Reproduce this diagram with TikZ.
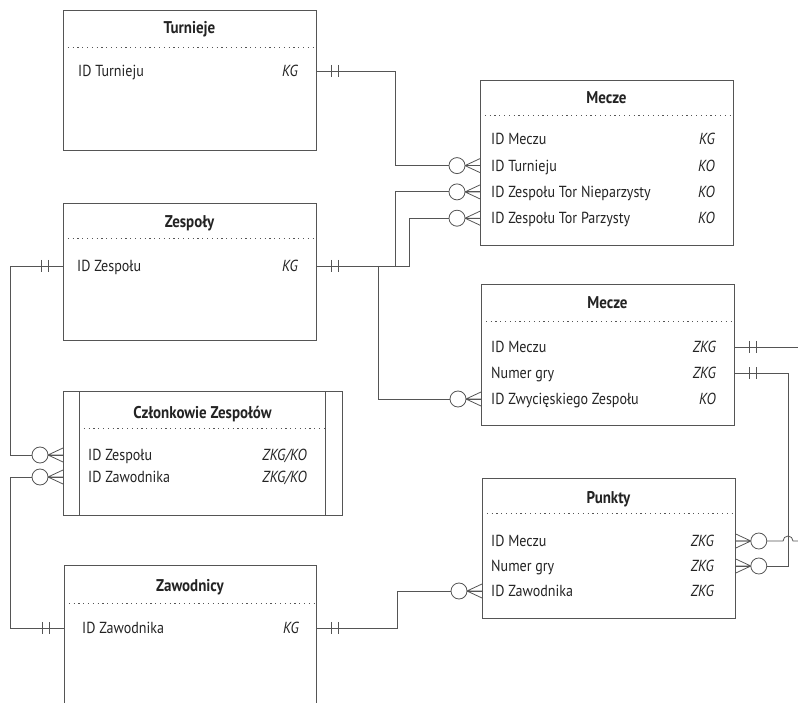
\documentclass[tikz,border=0pt]{standalone}
\usepackage{fontspec}
\setmainfont[FakeStretch=0.88]{PT Sans}
\usepackage{tikz}
\usetikzlibrary{positioning,calc}
\definecolor{inkgray}{RGB}{35,35,35}
\definecolor{linegray}{RGB}{85,85,85}

\tikzset{
  tbl/.style={draw=linegray, line width=0.8pt, minimum width=253pt, anchor=north west, inner sep=0pt},
  ttl/.style={font=\fontsize{17}{19}\selectfont\bfseries, text=inkgray, text height=12pt, text depth=0pt, inner sep=0pt},
  fld/.style={font=\fontsize{16}{18}\selectfont, text=inkgray, anchor=west, text height=11.2pt, text depth=0pt, inner sep=0pt},
  key/.style={font=\fontsize{16}{18}\selectfont\itshape, text=inkgray, anchor=east, text height=11.2pt, text depth=0pt, inner sep=0pt},
  sep/.style={linegray, line width=0.8pt, dash pattern=on 1.2pt off 3.6pt},
  conn/.style={linegray, line width=0.8pt},
  pics/onlyone/.style={code={
    \draw[conn] (14.5,-6) -- (14.5,6) (21.5,-6) -- (21.5,6);}},
  pics/zeromany/.style={code={
    \draw[conn] (0,-7) -- (15,0) -- (0,7) (0,0) -- (15,0);
    \draw[conn, fill=white] (23,0) circle (8pt);}}
}

\begin{document}
\begin{tikzpicture}[x=1pt, y=-1pt]
    \useasboundingbox (0,0) rectangle (798,703);

    % Turnieje
    \node[tbl, minimum height=140pt] (tur) at (63,10) {};
    \node[ttl] (tur-t) at (189.5,28) {Turnieje};
    \draw[sep] ([yshift=-37pt]tur.north west) -- ([yshift=-37pt]tur.north east);
    \node[fld] (tur-n1) at (78,71) {ID Turnieju};
    \node[key] (tur-k1) at (298,71) {KG};

    % Zespoly
    \node[tbl, minimum height=137pt] (zes) at (63,203) {};
    \node[ttl] (zes-t) at (189.5,222) {Zespoły};
    \draw[sep] ([yshift=-35pt]zes.north west) -- ([yshift=-35pt]zes.north east);
    \node[fld] (zes-n1) at (77,266) {ID Zespołu};
    \node[key] (zes-k1) at (298,266) {KG};

    % Czlonkowie Zespolow (table with double sides)
    \node[tbl, minimum width=279pt, minimum height=124pt] (czl) at (63,391) {};
    \draw[conn] ([xshift=16pt]czl.north west) -- ([xshift=16pt]czl.south west);
    \draw[conn] ([xshift=-17pt]czl.north east) -- ([xshift=-17pt]czl.south east);
    \node[ttl] (czl-t) at (202.5,412) {Członkowie Zespołów};
    \draw[sep] ([xshift=16pt,yshift=-37pt]czl.north west) -- ([xshift=-17pt,yshift=-37pt]czl.north east);
    \node[fld] (czl-n1) at (88,455) {ID Zespołu};
    \node[key] (czl-k1) at (307,455) {ZKG/KO};
    \node[fld] (czl-n2) at (88,477) {ID Zawodnika};
    \node[key] (czl-k2) at (307,477) {ZKG/KO};

    % Zawodnicy (runs off the page)
    \node[tbl, draw=none, minimum width=252pt, minimum height=138pt] (zaw) at (64,565) {};
    \draw[conn] (zaw.south west) -- (zaw.north west) -- (zaw.north east) -- (zaw.south east);
    \node[ttl] (zaw-t) at (190,585) {Zawodnicy};
    \draw[sep] ([yshift=-38pt]zaw.north west) -- ([yshift=-38pt]zaw.north east);
    \node[fld] (zaw-n1) at (82,628) {ID Zawodnika};
    \node[key] (zaw-k1) at (299,628) {KG};

    % Mecze
    \node[tbl, minimum height=165pt] (mec) at (480,80) {};
    \node[ttl] (mec-t) at (606.5,98) {Mecze};
    \draw[sep] ([yshift=-35pt]mec.north west) -- ([yshift=-35pt]mec.north east);
    \foreach \fname/\fkey [count=\i] in {ID Meczu/KG, ID Turnieju/KO,
        ID Zespołu Tor Nieparzysty/KO, ID Zespołu Tor Parzysty/KO} {
        \node[fld] (mec-n\i) at (491,113+26.3*\i) {\fname};
        \node[key] (mec-k\i) at (715,113+26.3*\i) {\fkey};
    }

    % Mecze (gry)
    \node[tbl, minimum height=141pt] (mgr) at (481,284) {};
    \node[ttl] (mgr-t) at (607.5,303) {Mecze};
    \draw[sep] ([yshift=-37pt]mgr.north west) -- ([yshift=-37pt]mgr.north east);
    \foreach \fname/\fkey [count=\i] in {ID Meczu/ZKG, Numer gry/ZKG,
        ID Zwycięskiego Zespołu/KO} {
        \node[fld] (mgr-n\i) at (491,321+26*\i) {\fname};
        \node[key] (mgr-k\i) at (716,321+26*\i) {\fkey};
    }

    % Punkty
    \node[tbl, minimum height=140pt] (pkt) at (482,478) {};
    \node[ttl] (pkt-t) at (608.5,497) {Punkty};
    \draw[sep] ([yshift=-35pt]pkt.north west) -- ([yshift=-35pt]pkt.north east);
    \foreach \fname/\fkey [count=\i] in {ID Meczu/ZKG, Numer gry/ZKG, ID Zawodnika/ZKG} {
        \node[fld] (pkt-n\i) at (491,516+25*\i) {\fname};
        \node[key] (pkt-k\i) at (714,516+25*\i) {\fkey};
    }

    % bend lines
    \coordinate (busL) at (10,0);
    \coordinate (busZa) at (378,0);
    \coordinate (busZb) at (395,0);
    \coordinate (busZc) at (409,0);
    \coordinate (busP) at (397,0);
    \coordinate (busR) at (788,0);
    \coordinate (offR) at (798,0);

    % Connectors
    \draw[conn] (tur.east |- tur-n1) -| (busZb |- mec-n2) -- (mec.west |- mec-n2);
    \draw[conn] (zes.east |- zes-n1) -- (busZc |- zes-n1) |- (mec.west |- mec-n4);
    \draw[conn] (busZb |- zes-n1) |- (mec.west |- mec-n3);
    \draw[conn] (busZa |- zes-n1) |- (mgr.west |- mgr-n3);
    \draw[conn] (zes.west |- zes-n1) -| (busL |- czl-n1) -- (czl.west |- czl-n1);
    \draw[conn] (zaw.west |- zaw-n1) -| (busL |- czl-n2) -- (czl.west |- czl-n2);
    \draw[conn] (zaw.east |- zaw-n1) -| (busP |- pkt-n3) -- (pkt.west |- pkt-n3);
    \draw[conn] (mgr.east |- mgr-n1) -- (offR |- mgr-n1);
    \draw[conn] (mgr.east |- mgr-n2) -| (busR |- pkt-n2) -- (pkt.east |- pkt-n2);
    \draw[conn] (pkt.east |- pkt-n1) -- ([xshift=-5pt]busR |- pkt-n1) arc (180:0:5pt) -- (offR |- pkt-n1);

    % Ends: one and only one
    \pic at (tur.east |- tur-n1) {onlyone};
    \pic at (zes.east |- zes-n1) {onlyone};
    \pic[xscale=-1] at (zes.west |- zes-n1) {onlyone};
    \pic[xscale=-1] at (zaw.west |- zaw-n1) {onlyone};
    \pic at (zaw.east |- zaw-n1) {onlyone};
    \pic at (mgr.east |- mgr-n1) {onlyone};
    \pic at (mgr.east |- mgr-n2) {onlyone};

    % Ends: zero or many
    \foreach \r in {2,3,4} {
        \pic[xscale=-1] at (mec.west |- mec-n\r) {zeromany};
    }
    \pic[xscale=-1] at (mgr.west |- mgr-n3) {zeromany};
    \pic[xscale=-1] at (czl.west |- czl-n1) {zeromany};
    \pic[xscale=-1] at (czl.west |- czl-n2) {zeromany};
    \pic[xscale=-1] at (pkt.west |- pkt-n3) {zeromany};
    \pic at (pkt.east |- pkt-n1) {zeromany};
    \pic at (pkt.east |- pkt-n2) {zeromany};
\end{tikzpicture}
\end{document}
